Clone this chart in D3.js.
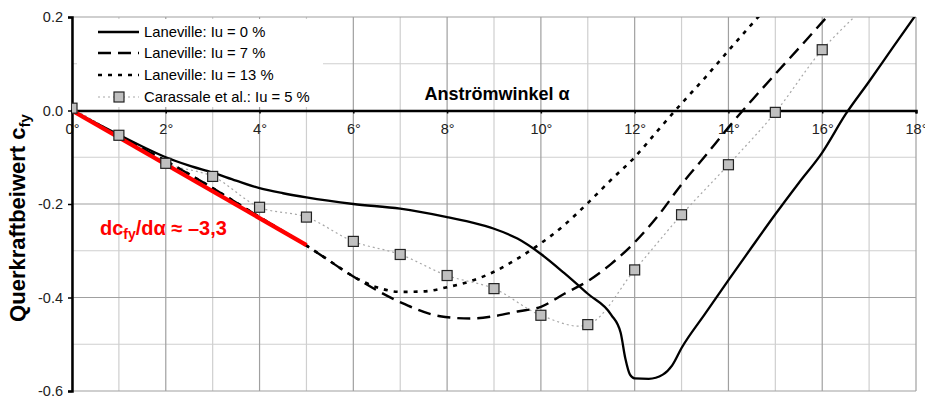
<!DOCTYPE html>
<html>
<head>
<meta charset="utf-8">
<script src="https://cdn.jsdelivr.net/npm/d3@7"></script>
<style>
  html, body { margin: 0; padding: 0; background: #fff; }
  svg { display: block; font-family: "Liberation Sans", Arial, sans-serif; }
</style>
</head>
<body>
<svg id="chart" width="925" height="397"></svg>
<script>
// Angle of attack ticks (degrees) and lift-coefficient ticks
const angleTicks = [0, 2, 4, 6, 8, 10, 12, 14, 16, 18];
const angleMinor = [1, 3, 5, 7, 9, 11, 13, 15, 17];
const cfyTicks = [0.2, 0.0, -0.2, -0.4, -0.6];
const cfyMinor = [0.1, -0.1, -0.3, -0.5];

// Laneville, Iu = 0 %
const lane0Alpha = [0, 0.5, 1, 1.5, 2, 2.5, 3, 3.5, 4, 4.5, 5, 6, 7, 8, 8.5, 9, 9.5, 10, 10.5, 11, 11.5, 11.7, 11.8, 11.9, 12, 12.3, 12.6, 12.8, 13, 13.5, 14, 14.5, 15, 15.5, 16, 16.5, 17, 17.5, 18];
const lane0Cfy = [0, -0.026, -0.052, -0.077, -0.1, -0.118, -0.133, -0.15, -0.166, -0.177, -0.186, -0.2, -0.21, -0.228, -0.239, -0.253, -0.274, -0.307, -0.348, -0.392, -0.437, -0.475, -0.53, -0.565, -0.573, -0.574, -0.565, -0.545, -0.508, -0.435, -0.363, -0.292, -0.222, -0.155, -0.09, -0.008, 0.062, 0.134, 0.205];

// Laneville, Iu = 7 %
const lane7Alpha = [0, 1, 2, 3, 4, 5, 6, 7, 7.85, 8.5, 9, 9.5, 10, 10.5, 11, 11.5, 12, 12.5, 13, 13.5, 14, 14.5, 15, 15.5, 16, 16.5];
const lane7Cfy = [0, -0.055, -0.108, -0.166, -0.228, -0.289, -0.355, -0.41, -0.44, -0.445, -0.44, -0.43, -0.42, -0.392, -0.365, -0.328, -0.282, -0.225, -0.158, -0.098, -0.036, 0.022, 0.078, 0.133, 0.189, 0.245];

// Laneville, Iu = 13 %
const lane13Alpha = [0, 1, 2, 3, 4, 5, 5.5, 6, 6.5, 7, 7.5, 8, 8.5, 9, 9.5, 10, 10.5, 11, 11.5, 12, 12.5, 13, 13.5, 14, 14.5, 15];
const lane13Cfy = [0, -0.055, -0.108, -0.166, -0.228, -0.289, -0.322, -0.355, -0.378, -0.388, -0.387, -0.378, -0.365, -0.345, -0.317, -0.284, -0.245, -0.198, -0.148, -0.1, -0.042, 0.015, 0.07, 0.128, 0.185, 0.24];

// Carassale et al., Iu = 5 % (measured points)
const carAlpha = [0, 1, 2, 3, 4, 5, 6, 7, 8, 9, 10, 11, 12, 13, 14, 15, 16, 17];
const carCfy = [0.005, -0.053, -0.113, -0.141, -0.207, -0.228, -0.28, -0.308, -0.353, -0.381, -0.438, -0.458, -0.341, -0.223, -0.116, -0.004, 0.13, 0.23];

// Initial slope dc_fy/dα (per radian) and the angle range it is drawn over
const slopePerRad = -3.3;
const slopeAlpha = [0, 5];

const legendLabels = ["Laneville: Iu = 0 %", "Laneville: Iu = 7 %", "Laneville: Iu = 13 %", "Carassale et al.: Iu = 5 %"];

const svg = d3.select("#chart");
const pLeft = 72, pRight = 916, pTop = 17, pBottom = 391;
const FONT = "Liberation Sans, Arial, sans-serif";

const x = d3.scaleLinear().domain([0, 18]).range([pLeft, pRight]);
const y = d3.scaleLinear().domain([-0.6, 0.2]).range([pBottom, pTop]);

// clip region for the plot
svg.append("defs").append("clipPath").attr("id", "plotClip")
  .append("rect").attr("x", pLeft).attr("y", pTop).attr("width", pRight - pLeft).attr("height", pBottom - pTop);

// grid
const grid = svg.append("g");
grid.selectAll("line.vmin").data(angleMinor).join("line")
  .attr("x1", d => x(d)).attr("x2", d => x(d)).attr("y1", pTop).attr("y2", pBottom)
  .attr("stroke", "#cfcfcf").attr("stroke-width", 1.2);
grid.selectAll("line.hmin").data(cfyMinor).join("line")
  .attr("y1", d => y(d)).attr("y2", d => y(d)).attr("x1", pLeft).attr("x2", pRight)
  .attr("stroke", "#cfcfcf").attr("stroke-width", 1.2);
grid.selectAll("line.vmaj").data(angleTicks).join("line")
  .attr("x1", d => x(d)).attr("x2", d => x(d)).attr("y1", pTop).attr("y2", pBottom)
  .attr("stroke", "#a0a0a0").attr("stroke-width", 1.2);
grid.selectAll("line.hmaj").data(cfyTicks).join("line")
  .attr("y1", d => y(d)).attr("y2", d => y(d)).attr("x1", pLeft).attr("x2", pRight)
  .attr("stroke", "#a0a0a0").attr("stroke-width", 1.2);

// legend background hides grid beneath it
svg.append("rect").attr("x", 77).attr("y", 19).attr("width", 246).attr("height", 88).attr("fill", "#fff");

// x axis along cfy = 0
const xAxis = d3.axisBottom(x).tickValues(angleTicks).tickSize(3).tickPadding(10)
  .tickFormat(d => d + "°");
const gx = svg.append("g").attr("transform", `translate(0,${y(0)})`).call(xAxis);
gx.attr("font-family", FONT).attr("font-size", 14.5);
gx.select(".domain").attr("stroke", "#000").attr("stroke-width", 2.5);
gx.selectAll(".tick line").attr("stroke", "#000").attr("stroke-width", 1.5);
gx.selectAll(".tick text").attr("fill", "#222");

// y axis
const yAxis = d3.axisLeft(y).tickValues(cfyTicks).tickSize(4).tickPadding(5)
  .tickFormat(d => d.toFixed(1));
const gy = svg.append("g").attr("transform", `translate(${pLeft},0)`).call(yAxis);
gy.attr("font-family", FONT).attr("font-size", 14.5);
gy.select(".domain").attr("stroke", "#000").attr("stroke-width", 2.5);
gy.selectAll(".tick line").attr("stroke", "#000").attr("stroke-width", 1.5);
gy.selectAll(".tick text").attr("fill", "#222");

// axis titles
svg.append("text").attr("x", 497).attr("y", 100).attr("text-anchor", "middle")
  .attr("font-family", FONT).attr("font-size", 18).attr("font-weight", "bold").attr("fill", "#000")
  .text("Anströmwinkel α");
const yt = svg.append("text").attr("transform", `translate(25,218) rotate(-90)`)
  .attr("text-anchor", "middle").attr("font-family", FONT).attr("font-size", 22)
  .attr("font-weight", "bold").attr("fill", "#000");
yt.append("tspan").text("Querkraftbeiwert c");
yt.append("tspan").attr("font-size", 15).attr("dy", 5).text("fy");

// curves
const plot = svg.append("g").attr("clip-path", "url(#plotClip)");
const lineGen = d3.line().x(d => x(d[0])).y(d => y(d[1])).curve(d3.curveMonotoneX);
const smoothGen = d3.line().x(d => x(d[0])).y(d => y(d[1])).curve(d3.curveCatmullRom.alpha(0.5));

const carPts = d3.zip(carAlpha, carCfy);
plot.append("path").attr("d", smoothGen(carPts)).attr("fill", "none")
  .attr("stroke", "#a8a8a8").attr("stroke-width", 1.2).attr("stroke-dasharray", "2,3");

plot.append("path").attr("d", lineGen(d3.zip(lane13Alpha, lane13Cfy))).attr("fill", "none")
  .attr("stroke", "#000").attr("stroke-width", 2.6).attr("stroke-dasharray", "4,6");
plot.append("path").attr("d", lineGen(d3.zip(lane7Alpha, lane7Cfy))).attr("fill", "none")
  .attr("stroke", "#000").attr("stroke-width", 2.4).attr("stroke-dasharray", "13,7");
plot.append("path").attr("d", lineGen(d3.zip(lane0Alpha, lane0Cfy))).attr("fill", "none")
  .attr("stroke", "#000").attr("stroke-width", 2.3);

// initial slope line
const slopePts = slopeAlpha.map(a => [a, slopePerRad * a * Math.PI / 180]);
plot.append("path").attr("d", d3.line().x(d => x(d[0])).y(d => y(d[1]))(slopePts))
  .attr("fill", "none").attr("stroke", "#ff0000").attr("stroke-width", 4.2);

// measured points
plot.selectAll("rect.pt").data(carPts).join("rect")
  .attr("x", d => x(d[0]) - 5).attr("y", d => y(d[1]) - 5).attr("width", 10).attr("height", 10)
  .attr("fill", "#c0c0c0").attr("stroke", "#222").attr("stroke-width", 1.2);

// slope annotation
const ann = svg.append("text").attr("x", 100).attr("y", 235).attr("font-family", FONT)
  .attr("font-size", 20).attr("font-weight", "bold").attr("fill", "#ff0000");
ann.append("tspan").text("dc");
ann.append("tspan").attr("font-size", 14).attr("dy", 4).text("fy");
ann.append("tspan").attr("dy", -4).text("/dα ≈ –3,3");

// legend
const legY = [32, 53, 75, 97];
const legStyles = [
  { dash: null, w: 2.3, color: "#000" },
  { dash: "13,7", w: 2.4, color: "#000" },
  { dash: "4,6", w: 2.6, color: "#000" },
  { dash: "2,3", w: 1.2, color: "#a8a8a8" }
];
const leg = svg.append("g").attr("font-family", FONT);
legendLabels.forEach((lab, i) => {
  const s = legStyles[i];
  leg.append("line").attr("x1", 98).attr("x2", 139).attr("y1", legY[i]).attr("y2", legY[i])
    .attr("stroke", s.color).attr("stroke-width", s.w).attr("stroke-dasharray", s.dash);
  leg.append("text").attr("x", 144).attr("y", legY[i] + 5).attr("font-size", 14.8)
    .attr("fill", "#000").text(lab);
});
leg.append("rect").attr("x", 114).attr("y", legY[3] - 5).attr("width", 10).attr("height", 10)
  .attr("fill", "#c0c0c0").attr("stroke", "#222").attr("stroke-width", 1.2);
</script>
</body>
</html>
